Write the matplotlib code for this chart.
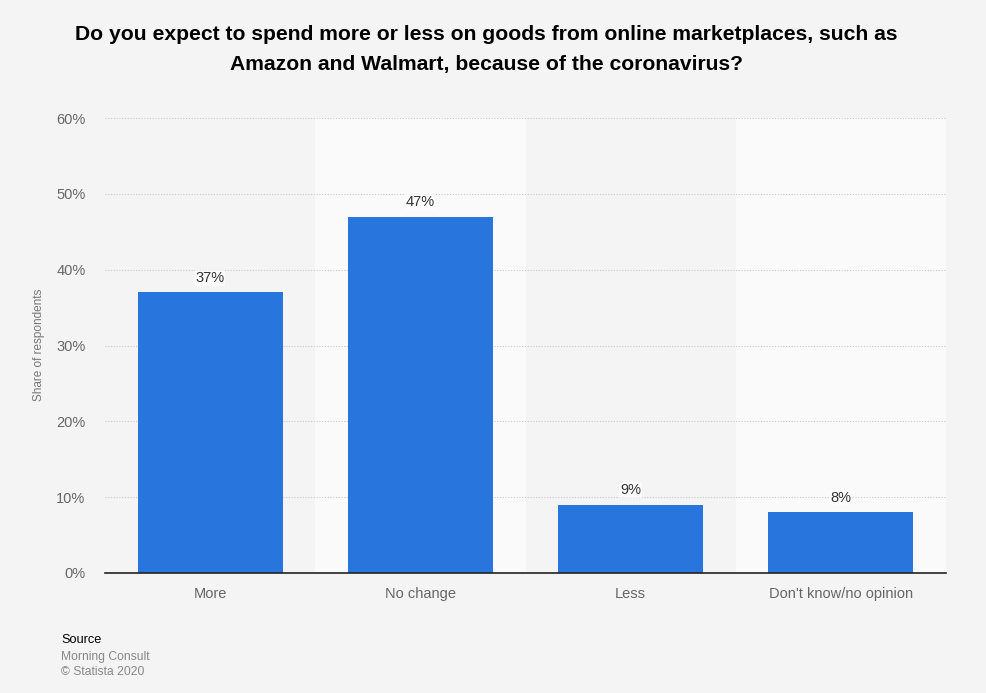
import matplotlib
matplotlib.use('Agg')
import matplotlib.pyplot as plt
import numpy as np

categories = ['More', 'No change', 'Less', "Don't know/no opinion"]
values = [37, 47, 9, 8]
yticks = [0, 10, 20, 30, 40, 50, 60]

plt.rcParams['font.family'] = ['Liberation Sans', 'DejaVu Sans']

bg = '#f4f4f4'
bar_color = '#2876dd'

fig = plt.figure(figsize=(9.86, 6.93), dpi=100, facecolor=bg)
ax = fig.add_axes([105 / 986, 1 - 573 / 693, 841 / 986, 455 / 693])
ax.set_facecolor(bg)

x = np.arange(len(categories))
# alternating column bands
for i in x:
    if i % 2 == 1:
        ax.axvspan(i - 0.5, i + 0.5, color='#fafafa', zorder=0, lw=0)

for t in yticks[1:]:
    ax.axhline(t, color='#c8c8c8', lw=0.8, ls=(0, (1, 1.5)), zorder=1)

bars = ax.bar(x, values, width=0.69, color=bar_color, zorder=2)
for xi, v in zip(x, values):
    ax.text(xi, v + 1.0, f'{v}%', ha='center', va='bottom', fontsize=10.5, color='#333333',
            zorder=3, bbox=dict(facecolor='white', edgecolor='none', alpha=0.6, pad=0.5))

ax.set_xlim(-0.5, len(categories) - 0.5)
ax.set_ylim(0, 60)
ax.set_yticks(yticks)
ax.set_yticklabels([f'{t}%' for t in yticks], fontsize=10.5, color='#666666')
ax.set_xticks(x)
ax.set_xticklabels(categories, fontsize=10.5, color='#666666')
ax.tick_params(axis='both', length=0)
ax.tick_params(axis='y', pad=14)
ax.tick_params(axis='x', pad=10)
for s in ['top', 'right', 'left']:
    ax.spines[s].set_visible(False)
ax.spines['bottom'].set_color('#222222')
ax.spines['bottom'].set_linewidth(1.2)
ax.spines['bottom'].set_zorder(4)

fig.text(39 / 986, 1 - 345 / 693, 'Share of respondents', rotation=90, ha='center', va='center',
         fontsize=8.5, color='#777777')

fig.text(486 / 986, 1 - 49.5 / 693,
         'Do you expect to spend more or less on goods from online marketplaces, such as\nAmazon and Walmart, because of the coronavirus?',
         ha='center', va='center', fontsize=15.2, fontweight='bold', color='#000000', linespacing=1.72)

fig.text(61 / 986, 1 - 640 / 693, 'Source', fontsize=9.2, color='#000000', va='center')
fig.text(61 / 986, 1 - 657 / 693, 'Morning Consult', fontsize=8.7, color='#888888', va='center')
fig.text(61 / 986, 1 - 672 / 693, '© Statista 2020', fontsize=8.7, color='#888888', va='center')

fig.savefig('out.png', dpi=100, facecolor=bg)
